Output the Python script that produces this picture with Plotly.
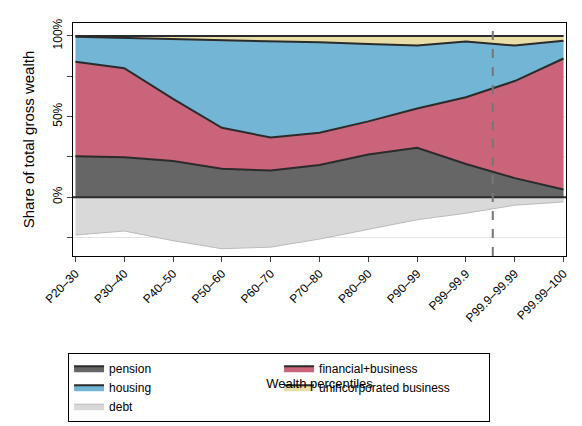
import plotly.graph_objects as go

categories = ["P20–30", "P30–40", "P40–50", "P50–60", "P60–70", "P70–80",
              "P80–90", "P90–99", "P99–99.9", "P99.9–99.99", "P99.99–100"]
pension = [25.3, 24.7, 22.4, 17.6, 16.5, 20.0, 26.5, 30.6, 20.6, 11.8, 4.7]
financial = [58.7, 55.3, 38.6, 25.4, 20.5, 20.0, 20.5, 24.4, 41.4, 60.2, 81.3]
housing = [15.4, 18.8, 37.0, 54.6, 60.0, 56.0, 48.0, 39.0, 34.5, 22.0, 11.0]
unincorporated = [0.6, 1.2, 2.0, 2.4, 3.0, 4.0, 5.0, 6.0, 3.5, 6.0, 3.0]
debt = [-23.5, -21, -27, -32, -31, -26, -20, -14, -10, -5, -3]

x = list(range(len(categories)))
edge = "#2b2b2b"
fig = go.Figure()
for name, vals, col in [("pension", pension, "#666666"),
                        ("financial+business", financial, "#c9647a"),
                        ("housing", housing, "#72b5d4"),
                        ("unincorporated business", unincorporated, "#e9dea8")]:
    fig.add_trace(go.Scatter(x=x, y=vals, name=name, stackgroup="pos", mode="lines",
                             fillcolor=col, line=dict(color=edge, width=2)))
fig.add_trace(go.Scatter(x=x, y=debt, name="debt", fill="tozeroy", mode="lines",
                         fillcolor="#d9d9d9", line=dict(color="#bbbbbb", width=1)))
fig.add_hline(y=0, line=dict(color=edge, width=2))
fig.add_vline(x=8.55, line=dict(color="#777777", width=2, dash="dash"))

fig.update_layout(
    width=582, height=426, plot_bgcolor="white", paper_bgcolor="white",
    margin=dict(l=65, r=24, t=15, b=164),
    font=dict(family="Liberation Sans, Arial", size=12, color="black"),
    legend=dict(orientation="h", x=-0.01, y=-0.415, xanchor="left", yanchor="top",
                bordercolor="black", borderwidth=1, entrywidth=165,
                traceorder="normal", font=dict(size=12)),
    xaxis=dict(tickvals=x, ticktext=categories, tickangle=-45, range=[-0.05, 10.05],
               showline=True, mirror=True, linecolor="black", ticks="outside",
               showgrid=False, zeroline=False, automargin=False,
               title=dict(text="Wealth percentiles", font=dict(size=13), standoff=55)),
    yaxis=dict(range=[-36.5, 108], tickvals=[-25, 0, 25, 50, 75, 100],
               ticktext=["", "0%", "", "50%", "", "100%"],
               tickangle=-90, showline=True, mirror=True, linecolor="black",
               ticks="outside", gridcolor="#e4e4e4", zeroline=False, automargin=False,
               title=dict(text="Share of total gross wealth", font=dict(size=15), standoff=12)),
)
fig.write_html("out.html")
